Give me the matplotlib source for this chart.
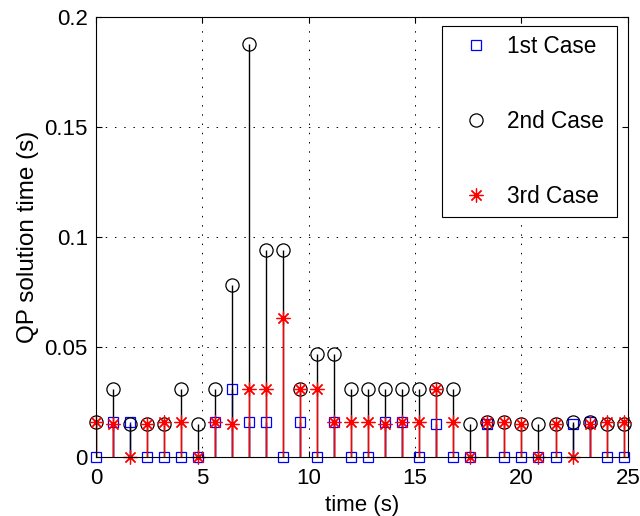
import numpy as np
import matplotlib.pyplot as plt
from matplotlib.lines import Line2D

plt.rcParams['font.family'] = ['Liberation Sans', 'DejaVu Sans']

# sample times (s)
t = np.arange(32) * 0.8

# QP solution time (s) per case
case1 = [0, .016, .016, 0, 0, 0, 0, .016, .031, .016, .016, 0, .016, 0, .016, 0,
         0, .016, .016, 0, .015, 0, 0, .015, 0, 0, 0, 0, .015, .016, 0, 0]
case2 = [.016, .031, .015, .015, .015, .031, .015, .031, .078, .1875, .094, .094, .031, .047, .047, .031,
         .031, .031, .031, .031, .031, .031, .015, .016, .016, .015, .015, .015, .016, .016, .015, .015]
case3 = [.016, .015, 0, .015, .016, .016, 0, .016, .015, .031, .031, .063, .031, .031, .016, .016,
         .016, .015, .016, .016, .031, .016, 0, .016, .016, .015, 0, .015, 0, .015, .016, .016]

labels = ['1st Case', '2nd Case', '3rd Case']

fig = plt.figure(figsize=(6.4, 5.16), dpi=100)
ax = fig.add_axes([0.15, 0.1143, 0.831, 0.853])

# matlab-like markers: square, circle, asterisk (+ and x)
styles = [('b', 's', 7.5), ('k', 'o', 9.5), ('r', (8, 2, 0), 10)]
for y, (c, m, ms) in zip([case1, case2, case3], styles):
    ml, sl, bl = ax.stem(t, y, basefmt=' ')
    sl.set_color(c)
    sl.set_linewidth(1.0)
    ml.set_marker(m)
    ml.set_markersize(ms)
    ml.set_markeredgecolor(c)
    ml.set_markerfacecolor('none')
    ml.set_markeredgewidth(0.9)
    ml.set_linestyle('none')
    ml.set_clip_on(False)

ax.set_xlim(0, 25)
ax.set_ylim(0, 0.2)
ax.set_xticks([0, 5, 10, 15, 20, 25])
ax.set_yticks([0, 0.05, 0.1, 0.15, 0.2])
ax.set_yticklabels(['0', '0.05', '0.1', '0.15', '0.2'])
ax.grid(True, color='k', linestyle=(0, (1.5, 8)), linewidth=0.7)
ax.tick_params(direction='in', top=True, right=True, length=4, width=0.8,
               labelsize=16, pad=6)
ax.tick_params(axis='x', pad=8)
for s in ax.spines.values():
    s.set_linewidth(0.8)

ax.set_xlabel('time (s)', fontsize=16, labelpad=4)
ax.set_ylabel('QP solution time (s)', fontsize=17.5, labelpad=4)

handles = [Line2D([], [], ls='none', marker=m, ms=ms, mec=c, mfc='none', mew=0.9)
           for c, m, ms in styles]
leg = ax.legend(handles, labels, loc='upper left',
                bbox_to_anchor=(442 / 640, 0, 175 / 640, 490 / 516),
                bbox_transform=fig.transFigure, mode='expand', borderaxespad=0,
                fontsize=16.3, fancybox=False, edgecolor='k', framealpha=1,
                handlelength=2.2, handletextpad=0.26, borderpad=0.4,
                labelspacing=2.3)
leg.get_frame().set_linewidth(0.8)

fig.savefig('out.png', dpi=100)
